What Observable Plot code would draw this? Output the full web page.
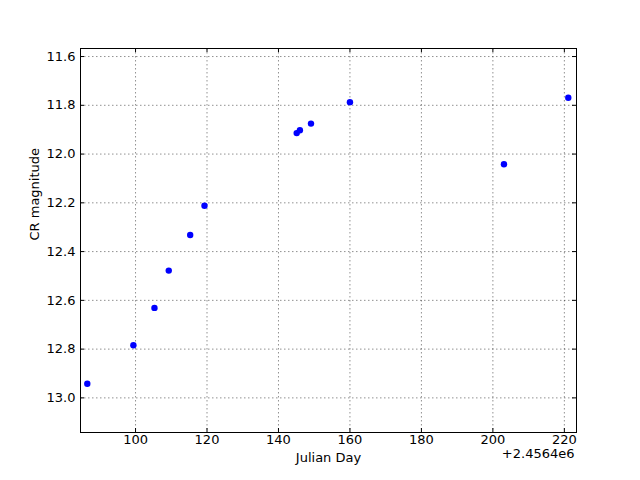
<!DOCTYPE html>
<html><head><meta charset="utf-8">
<script src="https://cdn.jsdelivr.net/npm/d3@7"></script>
<script src="https://cdn.jsdelivr.net/npm/@observablehq/plot@0.6"></script>
<style>body{margin:0;background:#fff}</style>
</head><body><div id="chart"></div>
<script>
const offset = 2456400;
const julianDay = [2456486.5, 2456499.4, 2456505.3, 2456509.3, 2456515.3, 2456519.3, 2456545.1, 2456546.0, 2456549.1, 2456560.0, 2456603.1, 2456621.1];
const crMag = [12.942, 12.784, 12.631, 12.478, 12.332, 12.212, 11.914, 11.902, 11.875, 11.787, 12.042, 11.769];
const xTickLabels = [100, 120, 140, 160, 180, 200, 220];
const yTicks = [11.6, 11.8, 12.0, 12.2, 12.4, 12.6, 12.8, 13.0];
const xLabel = "Julian Day";
const yLabel = "CR magnitude";
const offsetLabel = "+2.4564e6";

const xTicks = xTickLabels.map(d => d + offset);
const data = julianDay.map((x, i) => ({x, y: crMag[i]}));

const plot = Plot.plot({
  width: 640, height: 480,
  marginLeft: 80, marginRight: 64, marginTop: 48, marginBottom: 48,
  style: {fontFamily: "DejaVu Sans", fontSize: "13px", color: "#000", background: "#fff"},
  x: {domain: [2456484.6, 2456623.4]},
  y: {domain: [11.567, 13.142], reverse: true},
  marks: [
    Plot.gridX(xTicks, {stroke: "#000", strokeOpacity: 0.55, strokeWidth: 0.8, strokeDasharray: "1.5,2.5"}),
    Plot.gridY(yTicks, {stroke: "#000", strokeOpacity: 0.55, strokeWidth: 0.8, strokeDasharray: "1.5,2.5"}),
    Plot.tickX(xTicks, {x: d => d, insetTop: 380, stroke: "#000"}),
    Plot.tickX(xTicks, {x: d => d, insetBottom: 380, stroke: "#000"}),
    Plot.tickY(yTicks, {y: d => d, insetRight: 492, stroke: "#000"}),
    Plot.tickY(yTicks, {y: d => d, insetLeft: 492, stroke: "#000"}),
    Plot.frame({stroke: "#000", strokeWidth: 1}),
    Plot.dot(data, {x: "x", y: "y", r: 3.2, fill: "#0000ff", stroke: "none"}),
    Plot.axisX(xTicks, {tickSize: 0, tickPadding: 2, tickFormat: d => String(Math.round(d - offset)), label: null, fontSize: 13}),
    Plot.axisY(yTicks, {tickSize: 0, tickPadding: 5, tickFormat: d3.format(".1f"), label: null, fontSize: 13}),
    Plot.text([xLabel], {text: d => d, frameAnchor: "bottom", dy: 25, lineAnchor: "middle", fontSize: 13}),
    Plot.text([yLabel], {text: d => d, frameAnchor: "left", dx: -46, rotate: -90, lineAnchor: "middle", fontSize: 13}),
    Plot.text([offsetLabel], {text: d => d, frameAnchor: "bottom-right", dx: -2, dy: 21.5, textAnchor: "end", lineAnchor: "middle", fontSize: 13})
  ]
});
document.getElementById("chart").appendChild(plot);
</script>
</body></html>
